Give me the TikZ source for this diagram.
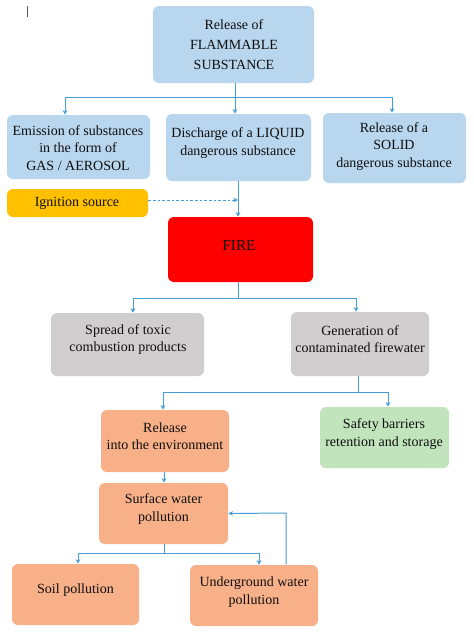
\documentclass[tikz,border=0pt]{standalone}
\usepackage{fontspec}
\setmainfont{Liberation Serif}
\newfontfamily\diagfont{Liberation Serif}
\usetikzlibrary{arrows.meta,calc}
\definecolor{boxblue}{RGB}{184,214,238}
\definecolor{boxgray}{RGB}{208,206,206}
\definecolor{boxorange}{RGB}{248,176,136}
\definecolor{boxgreen}{RGB}{194,228,188}
\definecolor{boxyellow}{RGB}{255,192,0}
\definecolor{boxred}{RGB}{255,0,0}
\definecolor{linkblue}{RGB}{70,158,215}
\definecolor{txt}{RGB}{15,15,15}
\tikzset{
  box/.style={rounded corners=4.5pt, draw=none, inner sep=0pt},
  bluebox/.style={box, fill=boxblue},
  graybox/.style={box, fill=boxgray},
  orangebox/.style={box, fill=boxorange},
  greenbox/.style={box, fill=boxgreen},
  lbl/.style={align=center, inner sep=0pt, text=txt,
    font=\diagfont\fontsize{10.5}{13}\selectfont},
  link/.style={draw=linkblue, line width=0.75pt},
  arr/.style={link, -{Stealth[length=3.5pt,width=3.5pt]}},
  dashlink/.style={arr, dash pattern=on 2pt off 1.5pt}
}
\begin{document}
\begin{tikzpicture}[x=0.75pt,y=-0.75pt]
\useasboundingbox (0,0) rectangle (474,633);
\fill[white] (0,0) rectangle (474,633);
% cursor mark
\draw[gray!70!black, line width=0.6pt] (27,6) -- (27,17);

% boxes
\node[bluebox, minimum width=161*0.75pt, minimum height=77*0.75pt] (top) at (233.5,44.5) {};
\node[bluebox, minimum width=143*0.75pt, minimum height=64*0.75pt] (gas) at (78.5,147) {};
\node[bluebox, minimum width=145*0.75pt, minimum height=67*0.75pt] (liq) at (238.5,147.5) {};
\node[bluebox, minimum width=143*0.75pt, minimum height=70*0.75pt] (sol) at (394.5,148) {};
\node[box, fill=boxyellow, minimum width=141*0.75pt, minimum height=28*0.75pt] (ign) at (77.5,203) {};
\node[box, fill=boxred, minimum width=145*0.75pt, minimum height=65*0.75pt] (fire) at (240.5,249.5) {};
\node[graybox, minimum width=153*0.75pt, minimum height=63*0.75pt] (spread) at (127.5,344.5) {};
\node[graybox, minimum width=138*0.75pt, minimum height=64*0.75pt] (gen) at (360,344) {};
\node[orangebox, minimum width=128*0.75pt, minimum height=62*0.75pt] (rel) at (165,441) {};
\node[greenbox, minimum width=129*0.75pt, minimum height=61*0.75pt] (safe) at (384.5,437.5) {};
\node[orangebox, minimum width=129*0.75pt, minimum height=61*0.75pt] (surf) at (163.5,513.5) {};
\node[orangebox, minimum width=127*0.75pt, minimum height=61*0.75pt] (soil) at (75.5,594.5) {};
\node[orangebox, minimum width=128*0.75pt, minimum height=61*0.75pt] (under) at (254,595.5) {};

% texts
\node[lbl, font=\diagfont\fontsize{10.5}{15}\selectfont] (top-t) at (234,45)
  {Release of\\FLAMMABLE\\SUBSTANCE};
\node[lbl] (gas-t) at (78,148) {Emission of substances\\in the form of\\GAS / AEROSOL};
\node[lbl] (liq-t) at (238,143) {Discharge of a LIQUID\\dangerous substance};
\node[lbl] (sol-t) at (394,146.5) {Release of a\\SOLID\\dangerous substance};
\node[lbl] (ign-t) at (77,203) {Ignition source};
\node[lbl, font=\diagfont\fontsize{11.5}{13}\selectfont] (fire-t) at (239,245) {FIRE};
\node[lbl] (spread-t) at (128,339.5) {Spread of toxic\\combustion products};
\node[lbl] (gen-t) at (360,339) {Generation of\\contaminated firewater};
\node[lbl] (rel-t) at (165,436) {Release\\into the environment};
\node[lbl] (safe-t) at (384,434) {Safety barriers\\retention and storage};
\node[lbl] (surf-t) at (163.5,509) {Surface water\\pollution};
\node[lbl] (soil-t) at (75.5,590) {Soil pollution};
\node[lbl] (under-t) at (254,592) {Underground water\\pollution};

% top branch
\coordinate (b1) at (235,97);
\draw[link] (top.south -| b1) -- (b1);
\draw[arr] (b1) -| ($(gas.north)+(-13.5,0)$);
\draw[arr] (b1) -- (b1 |- liq.north);
\draw[arr] (b1) -| ($(sol.north)+(-2.5,0)$);

% liquid -> fire, ignition
\coordinate (lf) at (238,0);
\draw[arr] (lf |- liq.south) -- (lf |- fire.north);
\coordinate (ig) at (238,200);
\draw[dashlink] (ign.east |- ig) -- (ig);

% fire branch
\coordinate (b2) at (238,298);
\draw[link] (b2 |- fire.south) -- (b2);
\draw[arr] (b2) -| ($(spread.north)+(5.5,0)$);
\draw[arr] (b2) -| ($(gen.north)+(-4,0)$);

% generation branch
\coordinate (b3) at (358,392);
\draw[link] (b3 |- gen.south) -- (b3);
\draw[arr] (b3) -| ($(rel.north)+(-2,0)$);
\draw[arr] (b3) -| ($(safe.north)+(3.5,0)$);

% release -> surface
\coordinate (rs) at (164,0);
\draw[arr] (rs |- rel.south) -- (rs |- surf.north);

% surface branch
\coordinate (b4) at (164,553);
\draw[link] (b4 |- surf.south) -- (b4);
\draw[arr] (b4) -| ($(soil.north)+(2.5,0)$);
\draw[arr] (b4) -| ($(under.north)+(5,0)$);

% feedback
\coordinate (fb) at (286,513);
\draw[arr] (fb |- under.north) -- (fb) -- (surf.east);
\end{tikzpicture}
\end{document}
